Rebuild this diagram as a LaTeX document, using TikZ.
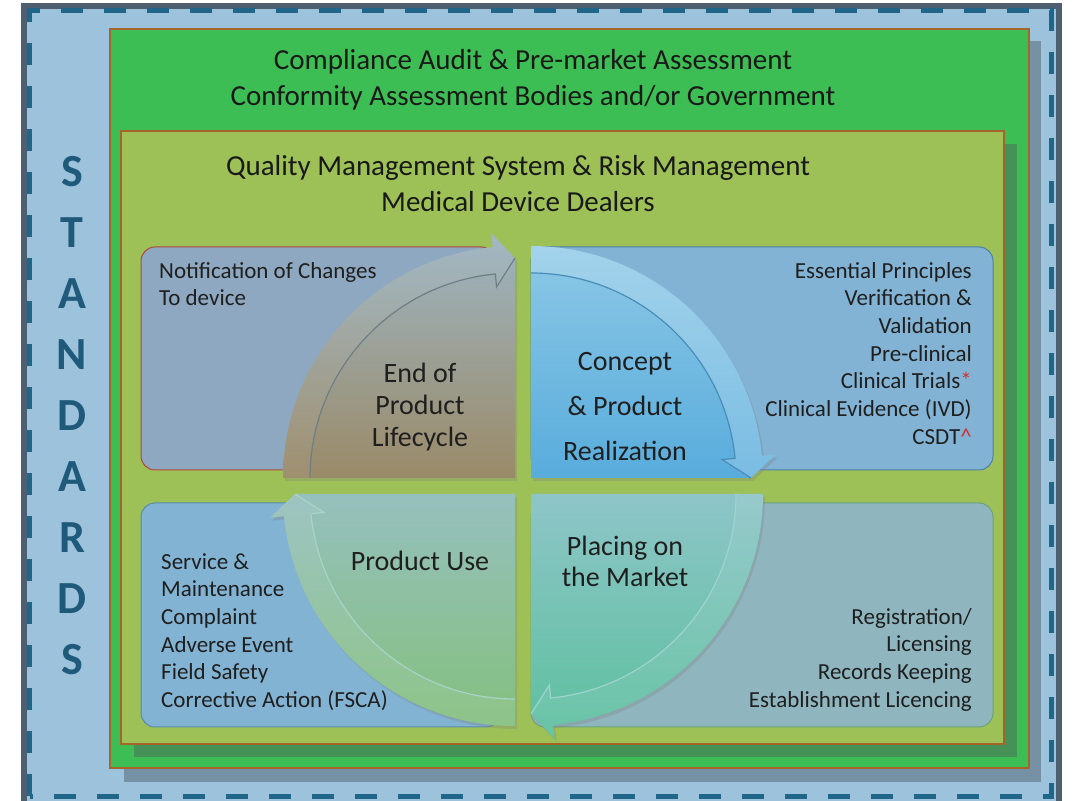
\documentclass[tikz,border=0pt]{standalone}
\usepackage{fontspec}
\setmainfont{Carlito}
\usetikzlibrary{shadows}

\definecolor{stdblue}{HTML}{9DC3DC}
\definecolor{stdframe}{HTML}{4E6070}
\definecolor{stddash}{HTML}{1F6688}
\definecolor{stdtext}{HTML}{1F5A7A}
\definecolor{auditgreen}{HTML}{3DBE55}
\definecolor{auditshadow}{HTML}{7591A3}
\definecolor{qmsolive}{HTML}{9DC157}
\definecolor{qmsshadow}{HTML}{469158}
\definecolor{boxedge}{HTML}{A5652A}
\definecolor{eolpanel}{HTML}{8EA8C1}
\definecolor{eoledge}{HTML}{B04A3A}
\definecolor{cptpanel}{HTML}{82B3D4}
\definecolor{cptedge}{HTML}{4A80A8}
\definecolor{usepanel}{HTML}{82B3D3}
\definecolor{useedge}{HTML}{5A8CA8}
\definecolor{mktpanel}{HTML}{8FB6BF}
\definecolor{mktedge}{HTML}{6AA27A}
\definecolor{eoltop}{HTML}{9DB5C2}
\definecolor{eolbot}{HTML}{9A8A68}
\definecolor{cpttop}{HTML}{8CC8E6}
\definecolor{cptbot}{HTML}{58ACDC}
\definecolor{mkttop}{HTML}{8EC5C8}
\definecolor{mktbot}{HTML}{5CC09E}
\definecolor{usetop}{HTML}{96C0BE}
\definecolor{usebot}{HTML}{84C07E}
\definecolor{eolline}{HTML}{6E7E84}
\definecolor{cptline}{HTML}{4A8CB8}
\definecolor{mktline}{HTML}{9ED4D0}
\definecolor{useline}{HTML}{A8D4C8}
\definecolor{notemark}{HTML}{D03030}

\begin{document}
\begin{tikzpicture}[x=1pt,y=1pt,
  title/.style={font=\fontsize{29}{36}\selectfont, text=black!90, align=center, inner sep=0pt},
  letter/.style={font=\fontsize{46}{46}\bfseries, text=stdtext, inner sep=0pt},
  panel/.style={rounded corners=14pt, line width=1pt},
  quarter/.style={drop shadow={shadow xshift=2pt, shadow yshift=-3pt, opacity=.3}},
  side/.style={font=\fontsize{23}{27.7}\selectfont, text=black!88, inner sep=0pt},
  phase/.style={font=\fontsize{28}{32}\selectfont, text=black!88, align=center, inner sep=0pt}]

  \useasboundingbox (0,0) rectangle (1072,801);

  % standards frame
  \fill[stdblue] (21,-10) rectangle (1062,798);
  \draw[stdframe, line width=6pt] (24,-10) rectangle (1058.5,795);
  \draw[stddash, line width=5pt, dash pattern=on 22pt off 21pt] (29.5,4.5) rectangle (1051.5,790);

  % audit box and qms box
  \fill[auditshadow] (124,19) rectangle (1041,760);
  \filldraw[fill=auditgreen, draw=boxedge, line width=1.5pt] (110,33) rectangle (1029,772);
  \fill[qmsshadow] (134,44) rectangle (1017,657);
  \filldraw[fill=qmsolive, draw=boxedge, line width=1.5pt] (121,57) rectangle (1004,670);

  \node[title] (audit) at (533,721) {Compliance Audit \& Pre-market Assessment\\Conformity Assessment Bodies and/or Government};
  \node[title] (qms) at (518,617) {Quality Management System \& Risk Management\\Medical Device Dealers};

  \foreach \ch [count=\i from 0] in {S,T,A,N,D,A,R,D,S}
    \node[letter] (std\i) at (72,{629-61*\i}) {\ch};

  % panels
  \filldraw[panel, fill=eolpanel, draw=eoledge] (141,554) rectangle (495,331);
  \filldraw[panel, fill=cptpanel, draw=cptedge] (531,554) rectangle (993,331);
  \filldraw[panel, fill=usepanel, draw=useedge] (141,298) rectangle (500,74);
  \filldraw[panel, fill=mktpanel, draw=mktedge] (531,298) rectangle (993,74);

  % cycle quadrants
  \foreach \cx/\cy/\a/\ctop/\cbot/\cline/\hl in {515/323/180/eoltop/eolbot/eolline/.05, 531/323/90/cpttop/cptbot/cptline/.2,
      531/307/0/mkttop/mktbot/mktline/.08, 515/307/-90/usetop/usebot/useline/.08}
  {
    \begin{scope}[shift={(\cx,\cy)}]
      \path[quarter, shade, top color=\ctop, bottom color=\cbot] (0,0) -- (\a:232)
        arc[start angle=\a, delta angle=-84.5, radius=232] -- (\a-84.5:246) -- (\a-90:220) -- cycle;
      \fill[white, opacity=\hl] (\a:232) arc[start angle=\a, delta angle=-84.5, radius=232] -- (\a-84.5:246)
        -- (\a-90:220) -- (\a-84.5:192) -- (\a-84.5:205) arc[start angle=\a-84.5, delta angle=84.5, radius=205] -- cycle;
      \draw[\cline, line width=1.2pt] (\a:205) arc[start angle=\a, delta angle=-84.5, radius=205]
        -- (\a-84.5:192) -- (\a-90:220);
    \end{scope}
  }

  \node[phase] (eol) at (420,394) {End of\\Product\\Lifecycle};
  \node[phase, font=\fontsize{28}{45}\selectfont] (cpt) at (625,394) {Concept\\\& Product\\Realization};
  \node[phase] (use) at (420,240) {Product Use};
  \node[phase, font=\fontsize{28}{31}\selectfont] (mkt) at (625,240) {Placing on\\the Market};

  \node[side, anchor=north west, align=left] (eolnote) at (159,539) {Notification of Changes\\To device};
  \node[side, anchor=north east, align=right] (cptnote) at (972,539) {Essential Principles\\Verification \&\\Validation\\Pre-clinical\\Clinical Trials{\color{notemark}*}\\Clinical Evidence (IVD)\\CSDT{\color{notemark}\textasciicircum}};
  \node[side, anchor=north west, align=left] (usenote) at (161,248) {Service \&\\Maintenance\\Complaint\\Adverse Event\\Field Safety\\Corrective Action (FSCA)};
  \node[side, anchor=north east, align=right] (mktnote) at (972,193) {Registration/\\Licensing\\Records Keeping\\Establishment Licencing};
\end{tikzpicture}
\end{document}
